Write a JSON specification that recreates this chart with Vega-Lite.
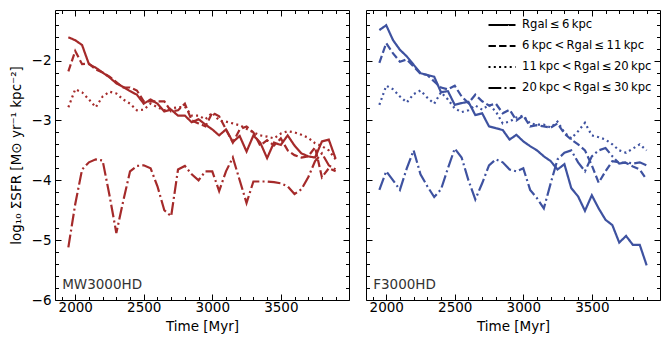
{
  "$schema": "https://vega.github.io/schema/vega-lite/v6.json",
  "padding": {"left": 8, "top": 5, "right": 5, "bottom": 5},
  "spacing": 15,
  "config": {
    "font": "DejaVu Sans",
    "view": {"stroke": "black", "strokeWidth": 1},
    "axis": {
      "domain": false, "grid": false,
      "labelFont": "DejaVu Sans", "labelFontSize": 13.5, "labelColor": "black",
      "tickColor": "black", "tickWidth": 1,
      "titleFont": "DejaVu Sans", "titleFontSize": 13.5, "titleFontWeight": "normal", "titleColor": "black",
      "labelOverlap": false
    }
  },
  "datasets": {
    "sfr": [
      {"p":"MW","t":1950,"r1":-1.61,"r2":-2.18,"r3":-2.78,"r4":-5.12},
      {"p":"MW","t":2000,"r1":-1.66,"r2":-1.84,"r3":-2.48,"r4":-4.4},
      {"p":"MW","t":2050,"r1":-1.74,"r2":-2.06,"r3":-2.53,"r4":-3.82},
      {"p":"MW","t":2100,"r1":-2.06,"r2":-2.05,"r3":-2.65,"r4":-3.7},
      {"p":"MW","t":2150,"r1":-2.12,"r2":-2.15,"r3":-2.78,"r4":-3.65},
      {"p":"MW","t":2200,"r1":-2.2,"r2":-2.2,"r3":-2.6,"r4":-3.67},
      {"p":"MW","t":2250,"r1":-2.28,"r2":-2.27,"r3":-2.52,"r4":-4.25},
      {"p":"MW","t":2300,"r1":-2.38,"r2":-2.36,"r3":-2.55,"r4":-4.88},
      {"p":"MW","t":2350,"r1":-2.44,"r2":-2.45,"r3":-2.65,"r4":-4.35},
      {"p":"MW","t":2400,"r1":-2.51,"r2":-2.45,"r3":-2.72,"r4":-3.85},
      {"p":"MW","t":2450,"r1":-2.57,"r2":-2.5,"r3":-2.83,"r4":-3.76},
      {"p":"MW","t":2500,"r1":-2.72,"r2":-2.68,"r3":-2.82,"r4":-3.75},
      {"p":"MW","t":2550,"r1":-2.65,"r2":-2.68,"r3":-2.72,"r4":-3.8},
      {"p":"MW","t":2600,"r1":-2.72,"r2":-2.68,"r3":-2.78,"r4":-4.1},
      {"p":"MW","t":2650,"r1":-2.85,"r2":-2.68,"r3":-2.83,"r4":-4.5},
      {"p":"MW","t":2700,"r1":-2.82,"r2":-2.85,"r3":-2.8,"r4":-4.6},
      {"p":"MW","t":2750,"r1":-2.92,"r2":-2.83,"r3":-2.78,"r4":-3.82},
      {"p":"MW","t":2800,"r1":-2.92,"r2":-2.72,"r3":-2.77,"r4":-3.76},
      {"p":"MW","t":2850,"r1":-3.03,"r2":-3.0,"r3":-2.92,"r4":-3.9},
      {"p":"MW","t":2900,"r1":-2.98,"r2":-3.05,"r3":-2.92,"r4":-4.0},
      {"p":"MW","t":2950,"r1":-3.07,"r2":-3.1,"r3":-2.98,"r4":-3.85},
      {"p":"MW","t":3000,"r1":-3.15,"r2":-2.87,"r3":-2.87,"r4":-3.85},
      {"p":"MW","t":3050,"r1":-3.25,"r2":-2.93,"r3":-3.0,"r4":-4.18},
      {"p":"MW","t":3100,"r1":-3.15,"r2":-3.15,"r3":-3.02,"r4":-3.85},
      {"p":"MW","t":3150,"r1":-3.36,"r2":-3.37,"r3":-3.05,"r4":-3.62},
      {"p":"MW","t":3200,"r1":-3.26,"r2":-3.15,"r3":-3.08,"r4":-4.0},
      {"p":"MW","t":3250,"r1":-3.52,"r2":-3.1,"r3":-3.14,"r4":-4.38},
      {"p":"MW","t":3300,"r1":-3.25,"r2":-3.2,"r3":-3.2,"r4":-4.02},
      {"p":"MW","t":3350,"r1":-3.37,"r2":-3.42,"r3":-3.25,"r4":-4.02},
      {"p":"MW","t":3400,"r1":-3.63,"r2":-3.33,"r3":-3.27,"r4":-4.02},
      {"p":"MW","t":3450,"r1":-3.37,"r2":-3.42,"r3":-3.3,"r4":-4.03},
      {"p":"MW","t":3500,"r1":-3.41,"r2":-3.3,"r3":-3.22,"r4":-4.05},
      {"p":"MW","t":3550,"r1":-3.25,"r2":-3.5,"r3":-3.18,"r4":-4.1},
      {"p":"MW","t":3600,"r1":-3.42,"r2":-3.58,"r3":-3.2,"r4":-4.23},
      {"p":"MW","t":3650,"r1":-3.55,"r2":-3.62,"r3":-3.24,"r4":-4.15},
      {"p":"MW","t":3700,"r1":-3.6,"r2":-3.6,"r3":-3.29,"r4":-3.95},
      {"p":"MW","t":3750,"r1":-3.62,"r2":-3.45,"r3":-3.38,"r4":-3.68},
      {"p":"MW","t":3800,"r1":-3.35,"r2":-3.95,"r3":-3.43,"r4":-3.55},
      {"p":"MW","t":3850,"r1":-3.32,"r2":-3.8,"r3":-3.5,"r4":-3.75},
      {"p":"MW","t":3900,"r1":-3.64,"r2":-3.85,"r3":-3.65,"r4":-3.82},
      {"p":"F","t":1950,"r1":-1.49,"r2":-2.04,"r3":-2.74,"r4":-4.16},
      {"p":"F","t":2000,"r1":-1.41,"r2":-1.71,"r3":-2.42,"r4":-3.85},
      {"p":"F","t":2050,"r1":-1.66,"r2":-1.88,"r3":-2.48,"r4":-4.0},
      {"p":"F","t":2100,"r1":-1.82,"r2":-2.02,"r3":-2.6,"r4":-4.16},
      {"p":"F","t":2150,"r1":-1.93,"r2":-1.98,"r3":-2.7,"r4":-3.8},
      {"p":"F","t":2200,"r1":-2.07,"r2":-2.1,"r3":-2.56,"r4":-3.5},
      {"p":"F","t":2250,"r1":-2.21,"r2":-2.22,"r3":-2.5,"r4":-3.9},
      {"p":"F","t":2300,"r1":-2.24,"r2":-2.24,"r3":-2.62,"r4":-4.1},
      {"p":"F","t":2350,"r1":-2.27,"r2":-2.35,"r3":-2.72,"r4":-4.28},
      {"p":"F","t":2400,"r1":-2.53,"r2":-2.45,"r3":-2.53,"r4":-4.15},
      {"p":"F","t":2450,"r1":-2.51,"r2":-2.48,"r3":-2.65,"r4":-3.8},
      {"p":"F","t":2500,"r1":-2.74,"r2":-2.42,"r3":-2.8,"r4":-3.47},
      {"p":"F","t":2550,"r1":-2.71,"r2":-2.6,"r3":-2.86,"r4":-3.62},
      {"p":"F","t":2600,"r1":-2.69,"r2":-2.71,"r3":-2.83,"r4":-4.0},
      {"p":"F","t":2650,"r1":-2.91,"r2":-2.57,"r3":-2.75,"r4":-4.32},
      {"p":"F","t":2700,"r1":-2.88,"r2":-2.68,"r3":-2.82,"r4":-4.05},
      {"p":"F","t":2750,"r1":-3.1,"r2":-2.75,"r3":-2.74,"r4":-3.75},
      {"p":"F","t":2800,"r1":-3.13,"r2":-2.72,"r3":-2.85,"r4":-3.65},
      {"p":"F","t":2850,"r1":-3.16,"r2":-2.88,"r3":-3.05,"r4":-3.7},
      {"p":"F","t":2900,"r1":-3.32,"r2":-2.82,"r3":-3.02,"r4":-3.82},
      {"p":"F","t":2950,"r1":-3.24,"r2":-3.0,"r3":-2.95,"r4":-3.85},
      {"p":"F","t":3000,"r1":-3.35,"r2":-2.92,"r3":-2.92,"r4":-3.8},
      {"p":"F","t":3050,"r1":-3.43,"r2":-3.1,"r3":-3.05,"r4":-4.16},
      {"p":"F","t":3100,"r1":-3.5,"r2":-3.08,"r3":-3.07,"r4":-4.3},
      {"p":"F","t":3150,"r1":-3.6,"r2":-3.1,"r3":-3.07,"r4":-4.47},
      {"p":"F","t":3200,"r1":-3.68,"r2":-3.12,"r3":-3.12,"r4":-4.05},
      {"p":"F","t":3250,"r1":-3.82,"r2":-3.05,"r3":-3.02,"r4":-3.65},
      {"p":"F","t":3300,"r1":-3.73,"r2":-3.22,"r3":-3.2,"r4":-3.54},
      {"p":"F","t":3350,"r1":-4.13,"r2":-3.32,"r3":-3.3,"r4":-3.5},
      {"p":"F","t":3400,"r1":-4.27,"r2":-3.4,"r3":-3.18,"r4":-3.7},
      {"p":"F","t":3450,"r1":-4.51,"r2":-3.5,"r3":-3.04,"r4":-3.85},
      {"p":"F","t":3500,"r1":-4.25,"r2":-3.75,"r3":-3.25,"r4":-3.6},
      {"p":"F","t":3550,"r1":-4.47,"r2":-4.04,"r3":-3.28,"r4":-3.5},
      {"p":"F","t":3600,"r1":-4.66,"r2":-3.85,"r3":-3.32,"r4":-3.46},
      {"p":"F","t":3650,"r1":-4.75,"r2":-3.68,"r3":-3.4,"r4":-3.6},
      {"p":"F","t":3700,"r1":-5.04,"r2":-3.7,"r3":-3.5,"r4":-3.72},
      {"p":"F","t":3750,"r1":-4.93,"r2":-3.71,"r3":-3.54,"r4":-3.7},
      {"p":"F","t":3800,"r1":-5.08,"r2":-3.77,"r3":-3.47,"r4":-3.72},
      {"p":"F","t":3850,"r1":-5.08,"r2":-3.82,"r3":-3.4,"r4":-3.7},
      {"p":"F","t":3900,"r1":-5.42,"r2":-3.99,"r3":-3.5,"r4":-3.75}
    ]
  },
  "resolve": {"legend": {"strokeDash": "independent"}},
  "hconcat": [
    {
      "width": 294, "height": 290,
      "data": {"name": "sfr"},
      "resolve": {"axis": {"x": "independent", "y": "independent"}},
      "layer": [
        {
          "transform": [{"filter": "datum.p === 'MW'"}, {"fold": ["r1","r2","r3","r4"], "as": ["region","v"]}],
          "mark": {"type": "line", "color": "#a52a2a", "strokeWidth": 2.2},
          "encoding": {
            "x": {"field": "t", "type": "quantitative",
              "scale": {"domain": [1852.5, 3997.5], "nice": false, "zero": false},
              "axis": {"orient": "bottom", "title": "Time [Myr]",
                "values": [1900,2000,2100,2200,2300,2400,2500,2600,2700,2800,2900,3000,3100,3200,3300,3400,3500,3600,3700,3800,3900],
                "labelExpr": "datum.value % 500 === 0 ? format(datum.value, 'd') : ''",
                "tickSize": {"condition": {"test": "datum.value % 500 === 0", "value": -6}, "value": -3.5},
                "labelPadding": 6, "titlePadding": 3}},
            "y": {"field": "v", "type": "quantitative",
              "scale": {"domain": [-6, -1.155], "nice": false, "zero": false},
              "axis": {"orient": "left", "title": "log₁₀ ΣSFR [M⊙ yr⁻¹ kpc⁻²]",
                "values": [-6,-5.8,-5.6,-5.4,-5.2,-5,-4.8,-4.6,-4.4,-4.2,-4,-3.8,-3.6,-3.4,-3.2,-3,-2.8,-2.6,-2.4,-2.2,-2,-1.8,-1.6,-1.4,-1.2],
                "labelExpr": "abs(datum.value - round(datum.value)) < 0.001 ? format(datum.value, 'd') : ''",
                "tickSize": {"condition": {"test": "abs(datum.value - round(datum.value)) < 0.001", "value": -6}, "value": -3.5},
                "labelPadding": 10, "titlePadding": 8}},
            "strokeDash": {"field": "region", "type": "nominal",
              "scale": {"domain": ["r1","r2","r3","r4"], "range": [[1,0],[7.4,3.2],[2,3.3],[12.8,3.2,2,3.2]]},
              "legend": null}
          }
        },
        {
          "data": {"values": [{"name": "MW3000HD"}]},
          "mark": {"type": "text", "align": "left", "baseline": "alphabetic", "fontSize": 13.5, "font": "DejaVu Sans", "color": "#333333"},
          "encoding": {
            "x": {"datum": 1905, "type": "quantitative",
              "axis": {"orient": "top", "title": null, "labels": false,
                "values": [1900,2000,2100,2200,2300,2400,2500,2600,2700,2800,2900,3000,3100,3200,3300,3400,3500,3600,3700,3800,3900],
                "tickSize": {"condition": {"test": "datum.value % 500 === 0", "value": -6}, "value": -3.5}}},
            "y": {"datum": -5.82, "type": "quantitative",
              "axis": {"orient": "right", "title": null, "labels": false,
                "values": [-6,-5.8,-5.6,-5.4,-5.2,-5,-4.8,-4.6,-4.4,-4.2,-4,-3.8,-3.6,-3.4,-3.2,-3,-2.8,-2.6,-2.4,-2.2,-2,-1.8,-1.6,-1.4,-1.2],
                "tickSize": {"condition": {"test": "abs(datum.value - round(datum.value)) < 0.001", "value": -6}, "value": -3.5}}},
            "text": {"field": "name"}
          }
        }
      ]
    },
    {
      "width": 294, "height": 290,
      "data": {"name": "sfr"},
      "resolve": {"axis": {"x": "independent", "y": "independent"}},
      "layer": [
        {
          "transform": [{"filter": "datum.p === 'F'"}, {"fold": ["r1","r2","r3","r4"], "as": ["region","v"]}],
          "mark": {"type": "line", "color": "#3e52a0", "strokeWidth": 2.2},
          "encoding": {
            "x": {"field": "t", "type": "quantitative",
              "scale": {"domain": [1852.5, 3997.5], "nice": false, "zero": false},
              "axis": {"orient": "bottom", "title": "Time [Myr]",
                "values": [1900,2000,2100,2200,2300,2400,2500,2600,2700,2800,2900,3000,3100,3200,3300,3400,3500,3600,3700,3800,3900],
                "labelExpr": "datum.value % 500 === 0 ? format(datum.value, 'd') : ''",
                "tickSize": {"condition": {"test": "datum.value % 500 === 0", "value": -6}, "value": -3.5},
                "labelPadding": 6, "titlePadding": 3}},
            "y": {"field": "v", "type": "quantitative",
              "scale": {"domain": [-6, -1.155], "nice": false, "zero": false},
              "axis": {"orient": "left", "title": null, "labels": false,
                "values": [-6,-5.8,-5.6,-5.4,-5.2,-5,-4.8,-4.6,-4.4,-4.2,-4,-3.8,-3.6,-3.4,-3.2,-3,-2.8,-2.6,-2.4,-2.2,-2,-1.8,-1.6,-1.4,-1.2],
                "tickSize": {"condition": {"test": "abs(datum.value - round(datum.value)) < 0.001", "value": -6}, "value": -3.5}}},
            "strokeDash": {"field": "region", "type": "nominal",
              "scale": {"domain": ["r1","r2","r3","r4"], "range": [[1,0],[7.4,3.2],[2,3.3],[12.8,3.2,2,3.2]]},
              "legend": {"orient": "none", "legendX": 121, "legendY": 0, "title": null, "padding": 0,
                "labelExpr": "datum.value === 'r1' ? 'Rgal\u2009≤\u20096\u2009kpc' : datum.value === 'r2' ? '6\u2009kpc\u2009<\u2009Rgal\u2009≤\u200911\u2009kpc' : datum.value === 'r3' ? '11\u2009kpc\u2009<\u2009Rgal\u2009≤\u200920\u2009kpc' : '20\u2009kpc\u2009<\u2009Rgal\u2009≤\u200930\u2009kpc'",
                "symbolType": "stroke", "symbolSize": 729, "symbolStrokeWidth": 2.2, "symbolStrokeColor": "black",
                "labelFont": "DejaVu Sans", "labelFontSize": 11.6, "labelColor": "black", "labelOffset": 5, "rowPadding": -11.5,
                "labelLimit": 300}}
          }
        },
        {
          "data": {"values": [{"name": "F3000HD"}]},
          "mark": {"type": "text", "align": "left", "baseline": "alphabetic", "fontSize": 13.5, "font": "DejaVu Sans", "color": "#333333"},
          "encoding": {
            "x": {"datum": 1905, "type": "quantitative",
              "axis": {"orient": "top", "title": null, "labels": false,
                "values": [1900,2000,2100,2200,2300,2400,2500,2600,2700,2800,2900,3000,3100,3200,3300,3400,3500,3600,3700,3800,3900],
                "tickSize": {"condition": {"test": "datum.value % 500 === 0", "value": -6}, "value": -3.5}}},
            "y": {"datum": -5.82, "type": "quantitative",
              "axis": {"orient": "right", "title": null, "labels": false,
                "values": [-6,-5.8,-5.6,-5.4,-5.2,-5,-4.8,-4.6,-4.4,-4.2,-4,-3.8,-3.6,-3.4,-3.2,-3,-2.8,-2.6,-2.4,-2.2,-2,-1.8,-1.6,-1.4,-1.2],
                "tickSize": {"condition": {"test": "abs(datum.value - round(datum.value)) < 0.001", "value": -6}, "value": -3.5}}},
            "text": {"field": "name"}
          }
        }
      ]
    }
  ]
}
